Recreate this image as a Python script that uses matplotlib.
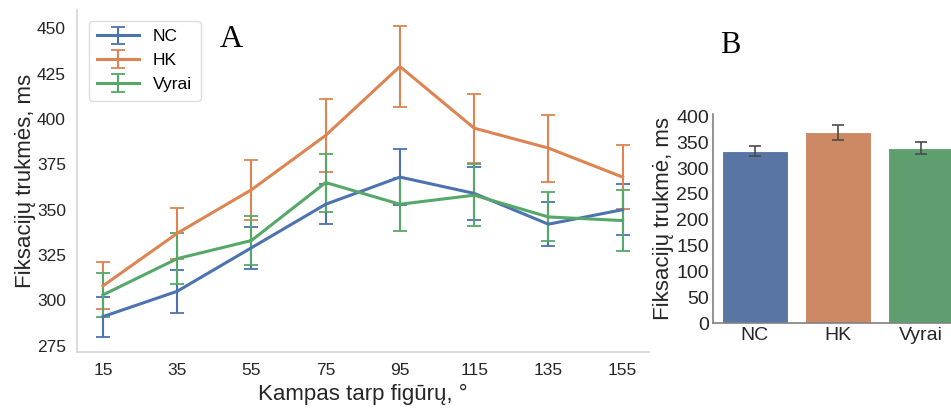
import matplotlib
matplotlib.use("Agg")
import matplotlib.pyplot as plt
import numpy as np

plt.rcParams['font.family'] = ['Liberation Sans', 'DejaVu Sans']

# --- data ---
angles = [15, 35, 55, 75, 95, 115, 135, 155]
groups = ["NC", "HK", "Vyrai"]

nc_mean = [291, 305, 329, 353, 368, 359, 342, 350]
nc_err = [11, 12, 11.5, 11, 15.5, 14.5, 12, 14]
hk_mean = [308, 337, 361, 391, 429, 395, 384, 368]
hk_err = [13, 14, 16.5, 20, 22.5, 19, 18.5, 17.5]
vyrai_mean = [303, 323, 333, 365, 353, 358, 346, 344]
vyrai_err = [12, 14, 13.5, 16, 14.5, 17, 13.5, 17]

bar_mean = [333, 369, 339]
bar_err = [10, 15, 12]

line_colors = ['#4c72b0', '#dd8452', '#55a868']
bar_colors = ['#5875a4', '#cc8963', '#5f9e6e']
text_color = '#262626'

fig = plt.figure(figsize=(9.51, 4.08), dpi=100)

# panel A
ax = fig.add_axes([0.081, 0.137, 0.601, 0.838])
series = [(nc_mean, nc_err), (hk_mean, hk_err), (vyrai_mean, vyrai_err)]
for (m, e), name, c in zip(series, groups, line_colors):
    ax.errorbar(angles, m, yerr=e, color=c, lw=2.2, elinewidth=1.5,
                capsize=4.7, capthick=1.3, label=name)
ax.set_xticks(angles)
ax.set_yticks([275, 300, 325, 350, 375, 400, 425, 450])
ax.set_xlabel("Kampas tarp figūrų, °", fontsize=16, color=text_color)
ax.set_ylabel("Fiksacijų trukmės, ms", fontsize=16, color=text_color,
              labelpad=1)
ax.tick_params(labelsize=12.5, colors=text_color, length=0, pad=8)
for s in ['top', 'right']:
    ax.spines[s].set_visible(False)
for s in ['left', 'bottom']:
    ax.spines[s].set_color('#d5d5d5')
    ax.spines[s].set_linewidth(1.2)
leg = ax.legend(loc='upper left', fontsize=12.5, frameon=True,
                borderpad=0.5, handlelength=2.4, bbox_to_anchor=(0.005, 0.995))
leg.get_frame().set_edgecolor('#d5d5d5')
fig.text(0.231, 0.885, "A", family='Liberation Serif', fontsize=23,
         color='black')

# panel B
bx = fig.add_axes([0.75, 0.208, 0.262, 0.513])
xpos = np.arange(len(groups))
bx.bar(xpos, bar_mean, width=0.8, color=bar_colors, edgecolor='white',
       linewidth=0.8)
bx.errorbar(xpos, bar_mean, yerr=bar_err, fmt='none', ecolor='#4a4a4a',
            elinewidth=1.2, capsize=4, capthick=1.2)
bx.set_xlim(-0.5, 2.5)
bx.set_ylim(0, 405)
bx.set_xticks(xpos)
bx.set_xticklabels(groups)
bx.set_yticks(range(0, 401, 50))
bx.set_ylabel("Fiksacijų trukmė, ms", fontsize=16, color=text_color,
              labelpad=2)
bx.tick_params(labelsize=14, colors=text_color, length=0, pad=3)
for s in ['top', 'right']:
    bx.spines[s].set_visible(False)
for s in ['left', 'bottom']:
    bx.spines[s].set_color('#808080')
    bx.spines[s].set_linewidth(1.2)
fig.text(0.757, 0.87, "B", family='Liberation Serif', fontsize=22,
         color='black')

fig.savefig("out.png", dpi=100)
